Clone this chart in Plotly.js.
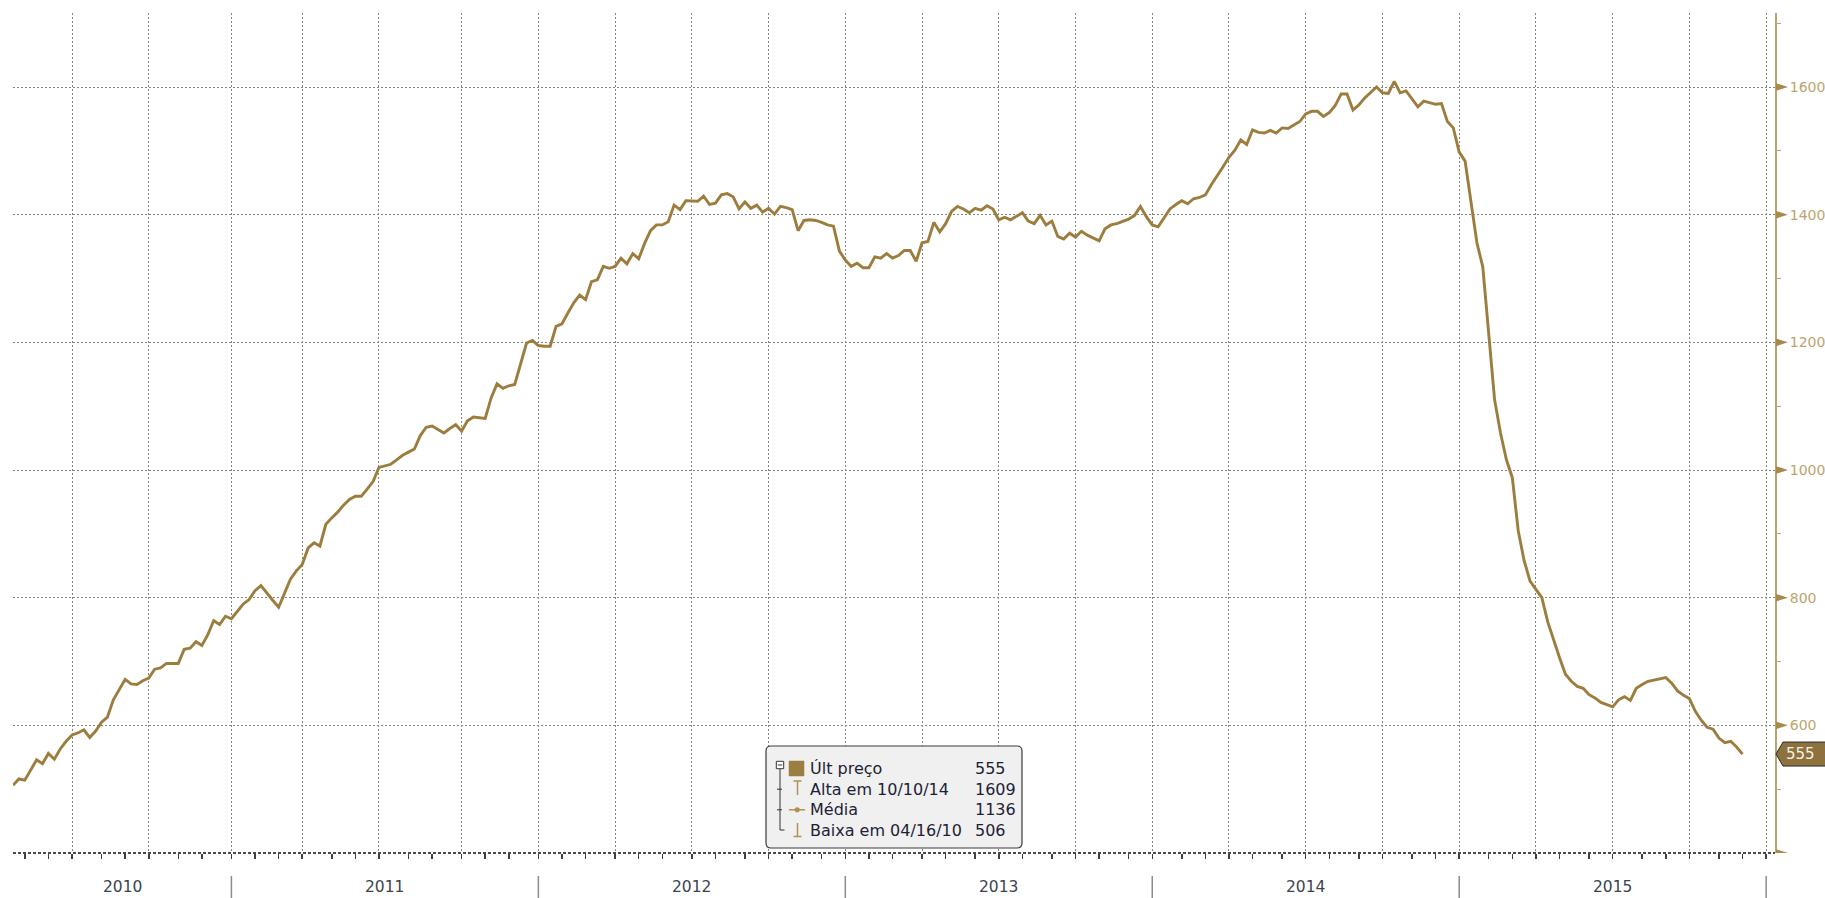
<!DOCTYPE html>
<html><head><meta charset="utf-8">
<script src="https://cdn.plot.ly/plotly-3.0.1.min.js"></script>
<style>html,body{margin:0;padding:0;background:#fff;overflow:hidden;} #chart{width:1825px;height:898px;}</style>
</head><body><div id="chart"></div>
<script>
// ---------------- DATA ----------------
const dates = [
'2010-04-16','2010-04-23','2010-04-30','2010-05-14','2010-05-21','2010-05-28','2010-06-04','2010-06-11','2010-06-18','2010-06-25',
'2010-07-02','2010-07-09','2010-07-16','2010-07-23','2010-07-30','2010-08-06','2010-08-13','2010-08-20','2010-08-27','2010-09-03',
'2010-09-10','2010-09-17','2010-09-24','2010-10-01','2010-10-08','2010-10-15','2010-10-29','2010-11-05','2010-11-12','2010-11-19',
'2010-11-26','2010-12-03','2010-12-10','2010-12-17','2010-12-24','2010-12-31','2011-01-07','2011-01-14','2011-01-21','2011-01-28',
'2011-02-04','2011-02-11','2011-02-18','2011-02-25','2011-03-04','2011-03-11','2011-03-18','2011-03-25','2011-04-01','2011-04-08',
'2011-04-15','2011-04-22','2011-04-29','2011-05-06','2011-05-13','2011-05-20','2011-05-27','2011-06-03','2011-06-10','2011-06-17',
'2011-06-24','2011-07-01','2011-07-08','2011-07-15','2011-07-22','2011-07-29','2011-08-05','2011-08-12','2011-08-19','2011-08-26',
'2011-09-02','2011-09-09','2011-09-16','2011-09-23','2011-09-30','2011-10-07','2011-10-14','2011-10-21','2011-10-28','2011-11-04',
'2011-11-11','2011-11-18','2011-11-25','2011-12-02','2011-12-09','2011-12-16','2011-12-23','2011-12-30','2012-01-06','2012-01-13',
'2012-01-20','2012-01-27','2012-02-03','2012-02-10','2012-02-17','2012-02-24','2012-03-02','2012-03-09','2012-03-16','2012-03-23',
'2012-03-30','2012-04-06','2012-04-13','2012-04-20','2012-04-27','2012-05-04','2012-05-11','2012-05-18','2012-05-25','2012-06-01',
'2012-06-08','2012-06-15','2012-06-22','2012-06-29','2012-07-06','2012-07-13','2012-07-20','2012-07-27','2012-08-03','2012-08-10',
'2012-08-17','2012-08-24','2012-08-31','2012-09-07','2012-09-14','2012-09-21','2012-09-28','2012-10-05','2012-10-12','2012-10-19',
'2012-10-26','2012-11-02','2012-11-09','2012-11-16','2012-11-23','2012-11-30','2012-12-07','2012-12-14','2012-12-21','2012-12-28',
'2013-01-04','2013-01-11','2013-01-18','2013-01-25','2013-02-01','2013-02-08','2013-02-15','2013-02-22','2013-03-01','2013-03-08',
'2013-03-15','2013-03-22','2013-03-29','2013-04-05','2013-04-12','2013-04-19','2013-04-26','2013-05-03','2013-05-10','2013-05-17',
'2013-05-24','2013-05-31','2013-06-07','2013-06-14','2013-06-21','2013-06-28','2013-07-05','2013-07-12','2013-07-19','2013-07-26',
'2013-08-02','2013-08-09','2013-08-16','2013-08-23','2013-08-30','2013-09-06','2013-09-13','2013-09-20','2013-09-27','2013-10-04',
'2013-10-11','2013-10-18','2013-10-25','2013-11-01','2013-11-08','2013-11-15','2013-11-22','2013-11-29','2013-12-06','2013-12-13',
'2013-12-20','2013-12-27','2014-01-03','2014-01-10','2014-01-17','2014-01-24','2014-01-31','2014-02-07','2014-02-14','2014-02-21',
'2014-02-28','2014-03-07','2014-03-14','2014-03-21','2014-03-28','2014-04-04','2014-04-11','2014-04-18','2014-04-25','2014-05-02',
'2014-05-09','2014-05-16','2014-05-23','2014-05-30','2014-06-06','2014-06-13','2014-06-20','2014-06-27','2014-07-04','2014-07-11',
'2014-07-18','2014-07-25','2014-08-01','2014-08-08','2014-08-15','2014-08-22','2014-08-29','2014-09-05','2014-09-12','2014-09-19',
'2014-09-26','2014-10-03','2014-10-10','2014-10-17','2014-10-24','2014-10-31','2014-11-07','2014-11-14','2014-11-21','2014-11-28',
'2014-12-05','2014-12-12','2014-12-19','2014-12-26','2015-01-02','2015-01-09','2015-01-16','2015-01-23','2015-01-30','2015-02-06',
'2015-02-13','2015-02-20','2015-02-27','2015-03-06','2015-03-13','2015-03-20','2015-03-27','2015-04-03','2015-04-10','2015-04-17',
'2015-04-24','2015-05-01','2015-05-08','2015-05-15','2015-05-22','2015-05-29','2015-06-05','2015-06-12','2015-06-19','2015-06-26',
'2015-07-03','2015-07-10','2015-07-17','2015-07-24','2015-07-31','2015-08-07','2015-08-28','2015-09-04','2015-09-11','2015-09-18',
'2015-09-25','2015-10-02','2015-10-09','2015-10-16','2015-10-23','2015-10-30','2015-11-06','2015-11-13','2015-11-20','2015-11-27'
];
const prices = [
506,516,514,546,540,556,547,563,575,585,
588,593,581,591,605,613,640,655,672,665,
664,670,674,688,690,697,697,719,721,731,
725,742,764,758,771,767,779,790,797,811,
819,807,796,785,806,829,842,852,878,886,
881,915,925,934,945,954,959,959,970,982,
1004,1007,1009,1016,1023,1028,1033,1054,1067,1069,
1064,1058,1065,1071,1061,1077,1083,1082,1081,1113,
1135,1128,1132,1134,1168,1199,1203,1195,1194,1194,
1225,1229,1246,1262,1274,1267,1295,1298,1319,1316,
1319,1332,1323,1339,1331,1355,1375,1384,1384,1389,
1415,1408,1422,1422,1421,1429,1416,1418,1431,1433,
1428,1409,1420,1410,1415,1404,1410,1401,1413,1411,
1408,1375,1391,1392,1391,1388,1384,1382,1343,1329,
1319,1324,1317,1317,1334,1332,1339,1332,1336,1344,
1344,1327,1356,1358,1388,1373,1386,1405,1413,1409,
1403,1410,1407,1414,1409,1392,1396,1392,1397,1403,
1390,1386,1399,1384,1390,1366,1362,1371,1365,1374,
1368,1363,1359,1378,1384,1386,1389,1393,1399,1413,
1397,1384,1381,1394,1409,1416,1422,1417,1425,1427,
1431,1447,1460,1475,1490,1501,1517,1510,1533,1529,
1528,1532,1528,1536,1535,1540,1546,1558,1562,1562,
1554,1560,1571,1589,1589,1564,1572,1583,1591,1600,
1591,1590,1609,1591,1594,1582,1569,1578,1576,1573,
1574,1546,1536,1498,1484,1420,1356,1318,1220,1110,
1058,1016,988,905,858,826,813,800,762,733,
706,680,669,661,658,648,643,636,632,629,
640,645,639,658,664,669,675,666,654,647,
642,622,608,597,594,580,573,575,566,555
];
const yTickVals = [600, 800, 1000, 1200, 1400, 1600];
const yTickText = ['600', '800', '1000', '1200', '1400', '1600'];
const yMinorVals = [500, 700, 900, 1100, 1300, 1500, 1700];
const yearLabels = ['2010', '2011', '2012', '2013', '2014', '2015'];
const legendLabels = ['Últ preço', 'Alta em 10/10/14', 'Média', 'Baixa em 04/16/10'];
const legendValues = ['555', '1609', '1136', '506'];

// ---------------- STYLE / GEOMETRY ----------------
const W = 1825, H = 898;
const M = {l: 13, r: 50, t: 13, b: 45};
const PW = W - M.l - M.r, PH = H - M.t - M.b;
const LINE = '#9c7d3d', AXIS = '#bda46e', TRI = '#a88b4b';
const GRID = '#858585', FONT = 'DejaVu Sans';
const xStart = '2010-04-16', xEnd = '2016-01-04 12:00';
const yRange = [400, 1716];

const px = x => (x - M.l) / PW;
const py = y => (M.t + PH - y) / PH;
const DAY = 86400000;
const iso = t => new Date(t).toISOString().slice(0, 10);

// tick positions: last weekly (Friday) point before the 1st of each month
function lastFridayBefore(y, m) {
  let t = Date.UTC(y, m, 1) - DAY;
  while (new Date(t).getUTCDay() !== 5) t -= DAY;
  return t;
}
const monthTicks = [], quarterTicks = [], yearBounds = [];
for (let y = 2010; y <= 2016; y++) {
  for (let m = 0; m < 12; m++) {
    if (y === 2010 && m < 4) continue;
    if (y === 2016 && m > 0) break;
    const t = lastFridayBefore(y, m);
    monthTicks.push(iso(t));
    if (m % 3 === 0) quarterTicks.push(iso(t));
    if (m === 0) yearBounds.push(t);
  }
}

const trace = {
  x: dates, y: prices, type: 'scatter', mode: 'lines',
  line: {color: LINE, width: 2.9}, hoverinfo: 'skip'
};

const shapes = [];
const annotations = [];

// bottom dashed axis line
shapes.push({type: 'line', xref: 'paper', yref: 'paper', x0: 0, x1: 1, y0: 0, y1: 0,
  line: {color: '#4a4a4a', width: 2, dash: '3px,2px'}, layer: 'above'});

// y-axis triangles at major ticks
[400].concat(yTickVals).forEach(v => {
  shapes.push({type: 'path', xref: 'paper', yref: 'y', xsizemode: 'pixel', ysizemode: 'pixel',
    xanchor: 1, yanchor: v, path: 'M 1,3.8 L 13,0 L 1,-3.8 Z',
    fillcolor: TRI, line: {width: 0}, layer: 'above'});
});

// last-value tag
const lastVal = prices[prices.length - 1];
shapes.push({type: 'path', xref: 'paper', yref: 'y', xsizemode: 'pixel', ysizemode: 'pixel',
  xanchor: 1, yanchor: lastVal, path: 'M 1,0 L 8,12 L 62,12 L 62,-12 L 8,-12 Z',
  fillcolor: '#8d723f', line: {color: '#2b2b2b', width: 1}, layer: 'above'});
annotations.push({xref: 'paper', yref: 'y', x: 1, y: lastVal, xanchor: 'left', yanchor: 'middle',
  xshift: 10, text: String(lastVal), showarrow: false, borderpad: 0,
  font: {family: FONT, size: 15, color: '#f6f1e2'}});

// year separators and labels
const t0 = Date.parse(xStart);
yearBounds.forEach(t => {
  shapes.push({type: 'line', xref: 'x', yref: 'paper', x0: iso(t), x1: iso(t),
    y0: py(876), y1: py(899), line: {color: '#8c8c8c', width: 1.5}});
});
const edges = [t0].concat(yearBounds);
yearLabels.forEach((lab, i) => {
  const mid = (edges[i] + edges[i + 1]) / 2;
  annotations.push({xref: 'x', yref: 'paper', x: new Date(mid).toISOString().replace('T', ' ').slice(0, 19),
    y: py(887), xanchor: 'center', yanchor: 'middle', showarrow: false, text: lab,
    font: {family: FONT, size: 15.5, color: '#3a4450'}});
});

// legend box
function pathFrom(cmds) {
  return cmds.map(c => c[0] + ' ' + c.slice(1).map((v, k) => (k % 2 === 0 ? px(v) : py(v)).toFixed(6)).join(',')).join(' ');
}
const bx0 = 766, bx1 = 1022, by0 = 746, by1 = 848, r = 5;
shapes.push({type: 'path', xref: 'paper', yref: 'paper', layer: 'above',
  path: pathFrom([['M', bx0 + r, by0], ['L', bx1 - r, by0], ['Q', bx1, by0, bx1, by0 + r], ['L', bx1, by1 - r],
    ['Q', bx1, by1, bx1 - r, by1], ['L', bx0 + r, by1], ['Q', bx0, by1, bx0, by1 - r], ['L', bx0, by0 + r],
    ['Q', bx0, by0, bx0 + r, by0]]) + ' Z',
  fillcolor: '#f0f0f0', line: {color: '#3a3a3a', width: 1.2}});
function segP(x0, y0, x1, y1, color, w) {
  shapes.push({type: 'line', xref: 'paper', yref: 'paper', layer: 'above',
    x0: px(x0), y0: py(y0), x1: px(x1), y1: py(y1), line: {color: color, width: w}});
}
function rectP(x0, y0, x1, y1, fill, lc, w, kind) {
  shapes.push({type: kind || 'rect', xref: 'paper', yref: 'paper', layer: 'above',
    x0: px(x0), y0: py(y0), x1: px(x1), y1: py(y1), fillcolor: fill, line: {color: lc, width: w}});
}
const rows = [768.5, 789.2, 809.8, 830];
// tree lines
segP(780, 769, 780, rows[3], '#333', 1);
segP(780, rows[3], 784.5, rows[3], '#333', 1);
segP(777, rows[1], 782, rows[1], '#333', 1);
segP(777, rows[2], 782, rows[2], '#333', 1);
// collapse box
rectP(776.3, 761.3, 783.7, 768.7, '#ffffff', '#333', 1);
segP(777.8, 765, 782.2, 765, '#333', 1);
// icons
rectP(789, 761, 804, 776, '#9c7e40', '#9c7e40', 0.5);
const ICON = '#b09052';
segP(793.5, 781, 801.5, 781, ICON, 1.5);
segP(797.5, 781, 797.5, 795, ICON, 1.5);
segP(789, rows[2], 805, rows[2], ICON, 1.5);
rectP(794.8, rows[2] - 2.4, 799.6, rows[2] + 2.4, ICON, ICON, 0.5, 'circle');
segP(797.5, 823, 797.5, 836.5, ICON, 1.5);
segP(793.5, 836.5, 801.5, 836.5, ICON, 1.5);
// legend texts
legendLabels.forEach((lab, i) => {
  annotations.push({xref: 'paper', yref: 'paper', x: px(808.5), y: py(rows[i]), xanchor: 'left', yanchor: 'middle',
    showarrow: false, text: lab, borderpad: 0, font: {family: FONT, size: 16, color: '#1e1e36'}});
  annotations.push({xref: 'paper', yref: 'paper', x: px(973.5), y: py(rows[i]), xanchor: 'left', yanchor: 'middle',
    showarrow: false, text: legendValues[i], borderpad: 0, font: {family: FONT, size: 16, color: '#1e1e36'}});
});

const layout = {
  width: W, height: H, margin: M, paper_bgcolor: '#ffffff', plot_bgcolor: '#ffffff',
  showlegend: false, hovermode: false,
  xaxis: {
    type: 'date', range: [xStart, xEnd], tickmode: 'array', tickvals: quarterTicks,
    ticktext: quarterTicks.map(() => ''), showticklabels: false,
    ticks: 'outside', ticklen: 5, tickwidth: 1.5, tickcolor: '#3f3f3f',
    showgrid: true, gridcolor: GRID, griddash: '2px,2px', gridwidth: 1,
    minor: {tickmode: 'array', tickvals: monthTicks, ticks: 'outside', ticklen: 5, tickwidth: 1.5,
      tickcolor: '#3f3f3f', showgrid: false},
    showline: false, zeroline: false, fixedrange: true
  },
  yaxis: {
    side: 'right', range: yRange, tickmode: 'array', tickvals: yTickVals, ticktext: yTickText,
    ticks: '', ticklabelstandoff: 10,
    tickfont: {family: FONT, size: 14, color: AXIS},
    showgrid: true, gridcolor: GRID, griddash: '2px,2px', gridwidth: 1,
    minor: {tickmode: 'array', tickvals: yMinorVals, ticks: 'outside', ticklen: 4, tickwidth: 1.2,
      tickcolor: AXIS, showgrid: false},
    showline: true, linecolor: AXIS, linewidth: 2, zeroline: false, fixedrange: true
  },
  shapes: shapes, annotations: annotations
};

Plotly.newPlot('chart', [trace], layout, {displayModeBar: false, staticPlot: true});
</script>
</body></html>
